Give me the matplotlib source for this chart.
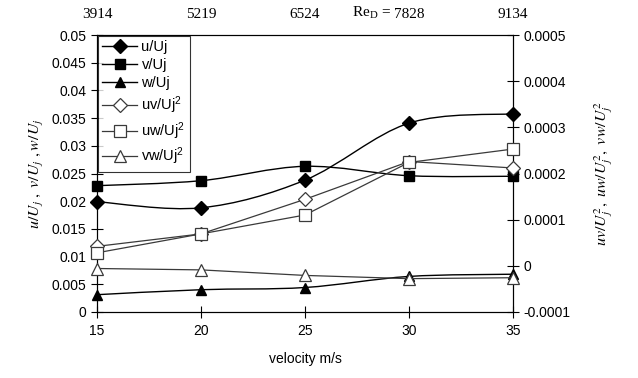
import numpy as np
import matplotlib
matplotlib.use('Agg')
import matplotlib.pyplot as plt
from matplotlib.path import Path
import matplotlib.patches as mpl_patches
from matplotlib.lines import Line2D

plt.rcParams['font.family'] = ['Liberation Sans', 'DejaVu Sans']
plt.rcParams['mathtext.fontset'] = 'stix'

velocity = [15, 20, 25, 30, 35]
re_labels = ['3914', '5219', '6524', '7828', '9134']

u_uj = [0.0199, 0.0188, 0.0238, 0.0341, 0.0358]
v_uj = [0.0228, 0.0237, 0.0263, 0.0246, 0.0245]
w_uj = [0.0031, 0.0040, 0.0044, 0.0064, 0.0068]

uv_uj2 = [4.2e-5, 6.9e-5, 1.44e-4, 2.26e-4, 2.12e-4]
uw_uj2 = [2.8e-5, 6.9e-5, 1.10e-4, 2.24e-4, 2.53e-4]
vw_uj2 = [-6e-6, -9e-6, -2.1e-5, -2.8e-5, -2.6e-5]

GRAY = '#3a3a3a'
SERIF = ['Liberation Serif', 'DejaVu Serif']

FILLED_STYLING = {
    'color': 'black',
    'linewidth': 1.0,
    'markersize': 7.5,
    'zorder': 4,
}

OPEN_STYLING = {
    'color': GRAY,
    'linewidth': 0.9,
    'markersize': 8.5,
    'markerfacecolor': 'white',
    'markeredgecolor': GRAY,
    'markeredgewidth': 0.9,
    'zorder': 5,
}


def smooth_path(ax, x, y, color='black', lw=1.0):
    # excel-like smoothed line: catmull-rom segments as cubic beziers
    x = np.asarray(x, dtype=float)
    y = np.asarray(y, dtype=float)
    pts = np.column_stack([x, y])
    verts = [pts[0]]
    codes = [Path.MOVETO]
    n = len(pts)
    for i in range(n - 1):
        p0 = pts[i - 1] if i > 0 else pts[i]
        p1 = pts[i]
        p2 = pts[i + 1]
        p3 = pts[i + 2] if i + 2 < n else pts[i + 1]
        c1 = p1 + (p2 - p0) / 6.0
        c2 = p2 - (p3 - p1) / 6.0
        verts += [c1, c2, p2]
        codes += [Path.CURVE4] * 3
    patch = mpl_patches.PathPatch(Path(verts, codes), fc='none', ec=color, lw=lw, zorder=3)
    ax.add_patch(patch)


fig = plt.figure(figsize=(6.38, 3.78), dpi=100)
ax = fig.add_axes([0.152, 0.175, 0.652, 0.732])
ax2 = ax.twinx()

ax.set_xlim(15, 35)
ax.set_ylim(0, 0.05)
ax2.set_ylim(-0.0001, 0.0005)

for ys, m in [(u_uj, 'D'), (v_uj, 's'), (w_uj, '^')]:
    smooth_path(ax, velocity, ys)
    ax.plot(velocity, ys, linestyle='none', marker=m, clip_on=False, **FILLED_STYLING)

ax2.plot(velocity, uv_uj2, marker='D', clip_on=False, **{**OPEN_STYLING, 'markersize': 7.5})
ax2.plot(velocity, uw_uj2, marker='s', clip_on=False, **OPEN_STYLING)
ax2.plot(velocity, vw_uj2, marker='^', clip_on=False, **OPEN_STYLING)

ax.set_xticks(velocity)
ax.set_yticks(np.arange(0, 0.0501, 0.005))
ax.set_yticklabels(['0', '0.005', '0.01', '0.015', '0.02', '0.025', '0.03',
                    '0.035', '0.04', '0.045', '0.05'])
ax2.set_yticks(np.arange(-0.0001, 0.00051, 0.0001))
ax2.set_yticklabels(['-0.0001', '0', '0.0001', '0.0002', '0.0003', '0.0004', '0.0005'])

ax.tick_params(axis='both', direction='inout', length=8, width=0.8, labelsize=10)
ax2.tick_params(axis='y', direction='inout', length=8, width=0.8, labelsize=10)
ax.tick_params(axis='x', pad=5)

for a in (ax, ax2):
    for s in a.spines.values():
        s.set_linewidth(0.8)

# top reynolds number labels
top = ax.secondary_xaxis('top')
top.set_xticks(velocity)
top.set_xticklabels(re_labels, family=SERIF, fontsize=11)
top.tick_params(length=0, pad=10)
top.spines['top'].set_visible(False)
ax.annotate(r'Re$_\mathregular{D}$ =', xy=(velocity[3], 1.0), xycoords=('data', 'axes fraction'),
            xytext=(-13, 10), textcoords='offset points', ha='right', va='bottom',
            family=SERIF, fontsize=11)

ax.set_xlabel('velocity m/s', fontsize=10, labelpad=10)
ax.set_ylabel(r'$u/U_j\ ,\ v/U_j\ ,w/U_j$', fontsize=11.5, labelpad=4)
ax2.set_ylabel(r'$uv/U_j^2,\ uw/U_j^2,\ vw/U_j^2$', fontsize=11.5, labelpad=16)

handles = [
    Line2D([], [], marker='D', label='u/Uj', **FILLED_STYLING),
    Line2D([], [], marker='s', label='v/Uj', **FILLED_STYLING),
    Line2D([], [], marker='^', label='w/Uj', **FILLED_STYLING),
    Line2D([], [], marker='D', label=r'uv/Uj$^\mathregular{2}$', **{**OPEN_STYLING, 'markersize': 7.5}),
    Line2D([], [], marker='s', label=r'uw/Uj$^\mathregular{2}$', **OPEN_STYLING),
    Line2D([], [], marker='^', label=r'vw/Uj$^\mathregular{2}$', **OPEN_STYLING),
]
leg = ax2.legend(handles=handles, loc='upper left', fontsize=10.5, frameon=True,
                 fancybox=False, edgecolor='black', borderaxespad=0.05,
                 handlelength=2.4, handletextpad=0.3, labelspacing=0.28,
                 borderpad=0.3)
leg.get_frame().set_linewidth(0.8)

fig.savefig('out.png', dpi=100)
